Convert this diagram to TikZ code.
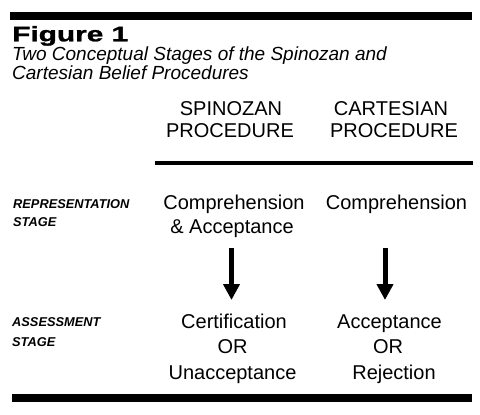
\documentclass[tikz,border=0pt]{standalone}
\usepackage{fontspec}
\setmainfont{Liberation Sans}
\newfontfamily\figfont{Liberation Sans}[FakeBold=1.2]
\usetikzlibrary{arrows.meta}
\begin{document}
\begin{tikzpicture}[x=1pt,y=-1pt,
  coltext/.style={anchor=base,inner sep=0pt,font=\fontsize{20}{24}\selectfont},
  stagetext/.style={anchor=base west,inner sep=0pt,font=\fontsize{12.8}{15}\selectfont\bfseries\itshape},
  captext/.style={anchor=base west,inner sep=0pt,font=\fontsize{19}{22}\selectfont\itshape},
  bar/.style={fill=black,draw=none},
  bigarrow/.style={line width=5pt,-{Triangle[length=16pt,width=16pt]}}]
\useasboundingbox (0,0) rectangle (480,415);
% rules
\path[bar] (10,12) rectangle (472,20);
\path[bar] (12,394) rectangle (472,402);
\coordinate (ruleL) at (155,163);
\coordinate (ruleR) at (473,163);
\draw[line width=3.5pt] (ruleL) -- (ruleR);
% title
\node[anchor=base west,inner sep=0pt,font=\fontsize{21}{24}\selectfont\figfont\bfseries] (fig) at (12,41.3) {\scalebox{1.42}[1]{Figure 1}};
\node[captext] (cap1) at (12,60.7) {Two Conceptual Stages of the Spinozan and};
\node[captext] (cap2) at (12,79.5) {Cartesian Belief Procedures};
% column headers
\node[coltext] (h1a) at (231,115) {SPINOZAN};
\node[coltext] (h1b) at (230,137) {PROCEDURE};
\node[coltext] (h2a) at (391,115) {CARTESIAN};
\node[coltext] (h2b) at (394,137) {PROCEDURE};
% stage labels
\node[stagetext] (rs1) at (13,208) {REPRESENTATION};
\node[stagetext] (rs2) at (13,226) {STAGE};
\node[stagetext] (as1) at (12,326) {ASSESSMENT};
\node[stagetext] (as2) at (12,346) {STAGE};
% representation stage
\node[coltext] (rep1a) at (234,209) {Comprehension};
\node[coltext] (rep1b) at (232,233) {\& Acceptance};
\node[coltext] (rep2) at (396.5,209) {Comprehension};
% assessment stage
\node[coltext] (ass1a) at (234,328) {Certification};
\node[coltext] (ass1b) at (232.5,353) {OR};
\node[coltext] (ass1c) at (232.5,379) {Unacceptance};
\node[coltext] (ass2a) at (389.5,328) {Acceptance};
\node[coltext] (ass2b) at (388,353) {OR};
\node[coltext] (ass2c) at (394,379) {Rejection};
% arrows
\coordinate (a1s) at (231.5,248);
\coordinate (a1e) at (231.5,300);
\coordinate (a2s) at (385,248);
\coordinate (a2e) at (385,300);
\draw[bigarrow] (a1s) -- (a1e);
\draw[bigarrow] (a2s) -- (a2e);
\end{tikzpicture}
\end{document}
